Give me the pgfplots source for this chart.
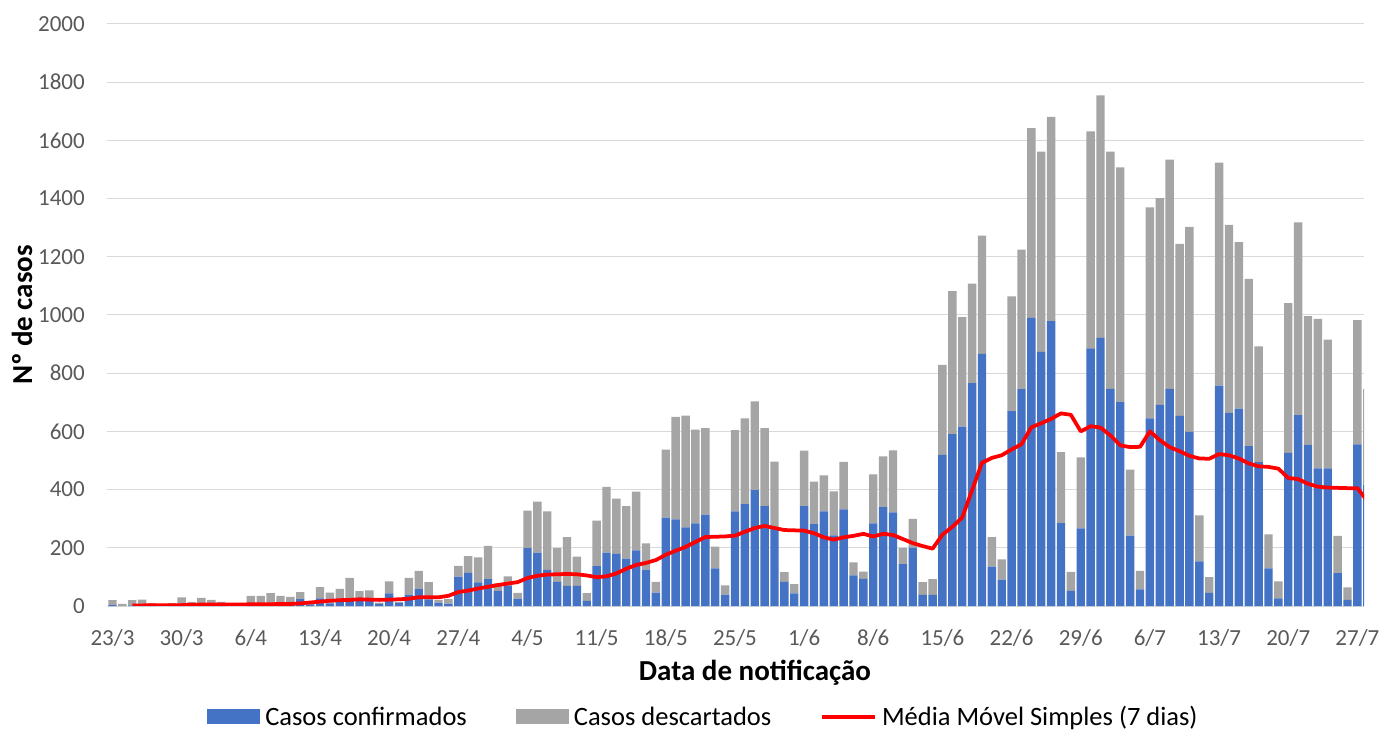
\documentclass[border=0pt]{standalone}
\usepackage{pgfplots}
\pgfplotsset{compat=1.18}
\usepackage{pgfplotstable}
\usepackage{fontspec}
\setmainfont{Carlito}

\definecolor{conf}{HTML}{4472C4}
\definecolor{desc}{HTML}{A5A5A5}
\definecolor{mm}{HTML}{FF0000}
\definecolor{grade}{HTML}{D9D9D9}
\definecolor{ticktxt}{HTML}{595959}

% dia (0 = 23/3), confirmados, descartados
\pgfplotstableread{
d c s
0 3 17
1 0 7
2 2 18
3 3 19
4 1 9
5 0 2
6 2 8
7 4 26
8 2 12
9 3 25
10 4 17
11 2 12
12 0 0
13 0 0
14 5 30
15 5 30
16 6 38
17 5 30
18 6 25
19 24 24
20 6 2
21 26 39
22 9 37
23 24 35
24 21 76
25 21 30
26 21 33
27 7 5
28 43 42
29 12 2
30 39 58
31 58 63
32 23 59
33 12 9
34 8 16
35 101 37
36 114 57
37 81 86
38 92 115
39 52 26
40 69 33
41 25 20
42 199 129
43 183 176
44 124 201
45 83 116
46 69 168
47 69 101
48 18 26
49 137 156
50 183 226
51 179 190
52 163 180
53 191 202
54 125 90
55 46 37
56 304 233
57 298 352
58 270 384
59 284 322
60 314 297
61 129 75
62 39 32
63 325 279
64 350 295
65 398 305
66 343 268
67 265 231
68 83 33
69 43 32
70 343 191
71 281 146
72 325 124
73 243 151
74 332 163
75 105 45
76 93 25
77 284 168
78 340 174
79 322 213
80 144 56
81 201 98
82 38 44
83 38 54
84 519 310
85 591 491
86 616 377
87 766 342
88 866 407
89 135 102
90 91 69
91 670 394
92 745 480
93 990 652
94 873 688
95 979 702
96 285 244
97 52 65
98 267 244
99 885 746
100 921 834
101 746 815
102 701 806
103 242 227
104 57 64
105 645 725
106 691 711
107 746 788
108 653 591
109 598 705
110 153 158
111 45 54
112 757 767
113 664 646
114 678 572
115 549 575
116 494 398
117 129 117
118 26 59
119 526 515
120 656 662
121 553 443
122 473 514
123 473 442
124 113 128
125 21 43
126 555 427
127 415 330
}\bars

% media movel simples (7 dias)
\pgfplotstableread{
d m
2 2
3 2
4 3
5 3
6 3
7 3
8 4
9 5
10 5
11 5
12 5
13 5
14 6
15 6
16 6
17 7
18 7
19 9
20 12
21 15
22 18
23 20
24 21
25 23
26 22
27 21
28 22
29 23
30 25
31 30
32 30
33 30
34 35
35 48
36 53
37 60
38 66
39 72
40 77
41 82
42 96
43 104
44 108
45 109
46 110
47 109
48 105
49 99
50 102
51 112
52 128
53 141
54 148
55 158
56 176
57 190
58 203
59 220
60 237
61 238
62 239
63 242
64 255
65 268
66 275
67 268
68 261
69 260
70 259
71 250
72 236
73 228
74 236
75 241
76 248
77 239
78 248
79 244
80 230
81 216
82 206
83 197
84 245
85 272
86 304
87 398
88 492
89 509
90 518
91 538
92 556
93 614
94 628
95 643
96 662
97 657
98 600
99 618
100 613
101 586
102 552
103 546
104 547
105 600
106 570
107 546
108 532
109 516
110 507
111 506
112 522
113 518
114 507
115 490
116 480
117 478
118 472
119 440
120 436
121 420
122 410
123 407
124 406
125 405
126 405
127 361
}\media

\pgfplotsset{
  barleg/.style={legend image code/.code={\fill[##1] (0bp,-7.5bp) rectangle (53bp,7.5bp);}},
  lineleg/.style={legend image code/.code={\draw[##1] (0bp,0bp) -- (53bp,0bp);}},
  base/.style={at={(0,0)}, anchor=south west, scale only axis,
    width=1257bp, height=582bp,
    xmin=-0.557, xmax=126.67, ymin=0, ymax=2000},
}

\begin{document}
\begin{tikzpicture}
\path[use as bounding box] (-107bp,-126bp) rectangle (1274bp,606bp);
\begin{axis}[base,
  ybar stacked, bar width=0.85,
  axis line style={draw=none}, major tick length=0pt,
  ymajorgrids, grid style={grade, line width=1bp},
  ytick={0,200,...,2000},
  xtick={0,7,...,126},
  xticklabels={23/3,30/3,6/4,13/4,20/4,27/4,4/5,11/5,18/5,25/5,1/6,8/6,15/6,22/6,29/6,6/7,13/7,20/7,27/7},
  /pgf/number format/assume math mode=true,
  /pgf/number format/1000 sep={},
  tick label style={font=\fontsize{23bp}{27bp}\selectfont, text=ticktxt, inner sep=0pt},
  yticklabel style={anchor=east, xshift=-22bp},
  xticklabel style={anchor=base, yshift=-39bp},
  xlabel={Data de notificação},
  ylabel={Nº de casos},
  label style={font=\bfseries\fontsize{29bp}{33bp}\selectfont, inner sep=0pt},
  xlabel style={at={(axis description cs:0.5155,-0.115)}, anchor=center},
  ylabel style={at={(axis description cs:-0.0676,0.5)}, anchor=center},
  legend style={at={(axis description cs:0.0796,-0.1905)}, anchor=west,
    draw=none, fill=none, inner sep=0pt,
    legend columns=3,
    font=\fontsize{26.5bp}{30bp}\selectfont,
    nodes={inner sep=0pt},
    /tikz/every odd column/.append style={column sep=5bp},
    /tikz/every even column/.append style={column sep=49bp}},
  legend cell align=left,
]
\addplot[fill=conf, draw=none, barleg] table[x=d, y=c] {\bars};
\addlegendentry{Casos confirmados}
\addplot[fill=desc, draw=none, barleg] table[x=d, y=s] {\bars};
\addlegendentry{Casos descartados}
\addlegendimage{mm, line width=3.75bp, lineleg}
\addlegendentry{Média Móvel Simples (7 dias)}
\end{axis}
\begin{axis}[base, hide axis]
\addplot[mm, line width=3.75bp, line join=round, mark=none] table[x=d, y=m] {\media};
\end{axis}
\end{tikzpicture}
\end{document}
